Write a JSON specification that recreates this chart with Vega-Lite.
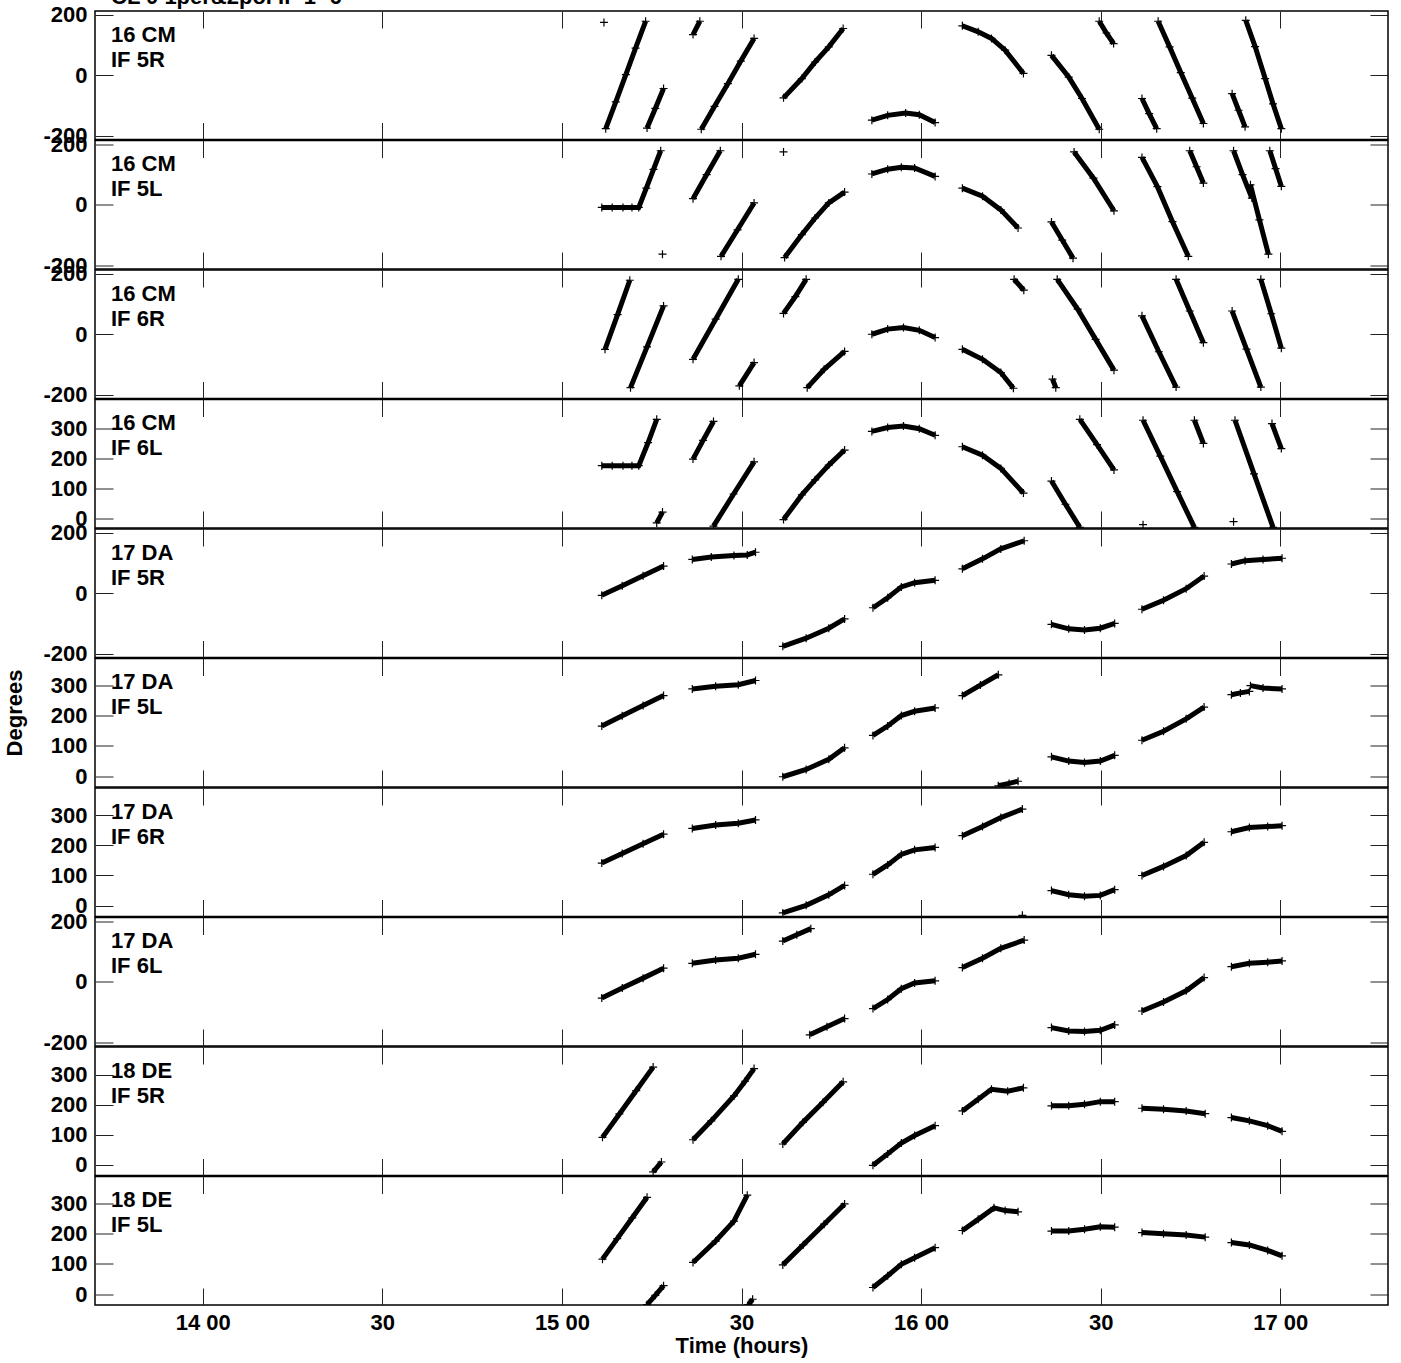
{
"$schema": "https://vega.github.io/schema/vega-lite/v6.json",
"padding": {"left": 2, "top": -14, "right": 5, "bottom": 5},
"background": "white",
"bounds": "flush",
"spacing": 0.5,
"title": {"text": "CL 0 1per&2pol IF 1- 6", "anchor": "start", "frame": "group", "offset": -23, "baseline": "alphabetic", "font": "Liberation Sans", "fontWeight": "bold", "fontSize": 22, "color": "black"},
"config": {
  "view": {"stroke": "black", "strokeWidth": 1.5},
  "axis": {"grid": false, "domain": false, "tickColor": "#222", "tickWidth": 1, "labelFont": "Liberation Sans", "labelFontWeight": "bold", "labelFontSize": 22, "labelColor": "black", "titleFont": "Liberation Sans", "titleFontWeight": "bold", "titleFontSize": 22, "titleColor": "black", "labelExpr": "datum.value < 0 ? '-' + abs(datum.value) : '' + datum.value"},
  "title": {"anchor": "start", "frame": "group", "dx": 16, "baseline": "top", "lineHeight": 25, "font": "Liberation Sans", "fontWeight": "bold", "fontSize": 22, "color": "black"}
},
"datasets": {
"p1": [
{"s":"a","t":15.117,"v":175},
{"s":"b","t":15.122,"v":-177},{"s":"b","t":15.150,"v":-88},{"s":"b","t":15.178,"v":2},{"s":"b","t":15.205,"v":90},{"s":"b","t":15.233,"v":179},
{"s":"c","t":15.365,"v":135},{"s":"c","t":15.384,"v":179},
{"s":"d","t":15.237,"v":-175},{"s":"d","t":15.260,"v":-110},{"s":"d","t":15.283,"v":-44},
{"s":"e","t":15.388,"v":-179},{"s":"e","t":15.425,"v":-103},{"s":"e","t":15.462,"v":-28},{"s":"e","t":15.498,"v":47},{"s":"e","t":15.535,"v":122},
{"s":"f","t":15.617,"v":-75},{"s":"f","t":15.668,"v":-11},{"s":"f","t":15.705,"v":44},{"s":"f","t":15.743,"v":94},{"s":"f","t":15.783,"v":155},
{"s":"g","t":15.863,"v":-149},{"s":"g","t":15.907,"v":-133},{"s":"g","t":15.957,"v":-125},{"s":"g","t":15.995,"v":-131},{"s":"g","t":16.039,"v":-157},
{"s":"h","t":16.115,"v":164},{"s":"h","t":16.159,"v":144},{"s":"h","t":16.196,"v":122},{"s":"h","t":16.234,"v":83},{"s":"h","t":16.285,"v":6},
{"s":"i","t":16.496,"v":179},{"s":"i","t":16.516,"v":140},{"s":"i","t":16.536,"v":105},
{"s":"j","t":16.363,"v":66},{"s":"j","t":16.411,"v":-6},{"s":"j","t":16.448,"v":-77},{"s":"j","t":16.496,"v":-179},
{"s":"k","t":16.615,"v":-77},{"s":"k","t":16.635,"v":-127},{"s":"k","t":16.656,"v":-177},
{"s":"l","t":16.660,"v":179},{"s":"l","t":16.692,"v":94},{"s":"l","t":16.723,"v":9},{"s":"l","t":16.755,"v":-76},{"s":"l","t":16.786,"v":-160},
{"s":"m","t":16.866,"v":-61},{"s":"m","t":16.884,"v":-116},{"s":"m","t":16.902,"v":-171},
{"s":"n","t":16.904,"v":182},{"s":"n","t":16.930,"v":95},{"s":"n","t":16.958,"v":-11},{"s":"n","t":16.980,"v":-95},{"s":"n","t":17.003,"v":-177}
],
"p2": [
{"s":"a","t":15.111,"v":-9},{"s":"a","t":15.140,"v":-9},{"s":"a","t":15.170,"v":-9},{"s":"a","t":15.195,"v":-9},{"s":"a","t":15.214,"v":-9},{"s":"a","t":15.235,"v":55},{"s":"a","t":15.255,"v":117},{"s":"a","t":15.275,"v":179},
{"s":"b","t":15.280,"v":-164},
{"s":"c","t":15.365,"v":20},{"s":"c","t":15.403,"v":100},{"s":"c","t":15.441,"v":179},
{"s":"d","t":15.443,"v":-171},{"s":"d","t":15.489,"v":-83},{"s":"d","t":15.535,"v":6},
{"s":"e","t":15.617,"v":175},
{"s":"f","t":15.620,"v":-175},{"s":"f","t":15.668,"v":-99},{"s":"f","t":15.705,"v":-44},{"s":"f","t":15.743,"v":6},{"s":"f","t":15.787,"v":42},
{"s":"g","t":15.863,"v":102},{"s":"g","t":15.907,"v":118},{"s":"g","t":15.945,"v":124},{"s":"g","t":15.982,"v":122},{"s":"g","t":16.039,"v":94},
{"s":"h","t":16.115,"v":55},{"s":"h","t":16.171,"v":28},{"s":"h","t":16.222,"v":-17},{"s":"h","t":16.270,"v":-77},
{"s":"i","t":16.426,"v":175},{"s":"i","t":16.480,"v":88},{"s":"i","t":16.537,"v":-20},
{"s":"j","t":16.363,"v":-57},{"s":"j","t":16.393,"v":-117},{"s":"j","t":16.423,"v":-177},
{"s":"k","t":16.615,"v":157},{"s":"k","t":16.658,"v":60},{"s":"k","t":16.700,"v":-56},{"s":"k","t":16.744,"v":-171},
{"s":"l","t":16.748,"v":179},{"s":"l","t":16.767,"v":126},{"s":"l","t":16.786,"v":72},
{"s":"m","t":16.870,"v":179},{"s":"m","t":16.895,"v":100},{"s":"m","t":16.921,"v":22},
{"s":"n","t":16.917,"v":66},{"s":"n","t":16.942,"v":-50},{"s":"n","t":16.967,"v":-164},
{"s":"o","t":16.971,"v":179},{"s":"o","t":16.987,"v":120},{"s":"o","t":17.003,"v":61}
],
"p3": [
{"s":"a","t":15.120,"v":-50},{"s":"a","t":15.155,"v":65},{"s":"a","t":15.189,"v":179},
{"s":"b","t":15.191,"v":-177},{"s":"b","t":15.237,"v":-42},{"s":"b","t":15.283,"v":94},
{"s":"c","t":15.365,"v":-83},{"s":"c","t":15.428,"v":50},{"s":"c","t":15.491,"v":182},
{"s":"d","t":15.494,"v":-171},{"s":"d","t":15.535,"v":-94},
{"s":"e","t":15.617,"v":69},{"s":"e","t":15.650,"v":125},{"s":"e","t":15.680,"v":182},
{"s":"f","t":15.683,"v":-177},{"s":"f","t":15.730,"v":-116},{"s":"f","t":15.787,"v":-57},
{"s":"g","t":15.863,"v":0},{"s":"g","t":15.907,"v":17},{"s":"g","t":15.951,"v":22},{"s":"g","t":15.995,"v":13},{"s":"g","t":16.039,"v":-11},
{"s":"h","t":16.115,"v":-50},{"s":"h","t":16.171,"v":-83},{"s":"h","t":16.222,"v":-127},{"s":"h","t":16.257,"v":-179},
{"s":"i","t":16.259,"v":182},{"s":"i","t":16.286,"v":146},
{"s":"j","t":16.379,"v":182},{"s":"j","t":16.436,"v":83},{"s":"j","t":16.486,"v":-17},{"s":"j","t":16.537,"v":-119},
{"s":"k","t":16.366,"v":-149},{"s":"k","t":16.375,"v":-177},
{"s":"l","t":16.615,"v":61},{"s":"l","t":16.662,"v":-58},{"s":"l","t":16.710,"v":-175},
{"s":"m","t":16.710,"v":182},{"s":"m","t":16.748,"v":77},{"s":"m","t":16.786,"v":-28},
{"s":"n","t":16.866,"v":77},{"s":"n","t":16.906,"v":-49},{"s":"n","t":16.946,"v":-175},
{"s":"o","t":16.946,"v":182},{"s":"o","t":16.975,"v":68},{"s":"o","t":17.003,"v":-46}
],
"p4": [
{"s":"a","t":15.111,"v":176},{"s":"a","t":15.140,"v":176},{"s":"a","t":15.170,"v":176},{"s":"a","t":15.195,"v":176},{"s":"a","t":15.214,"v":176},{"s":"a","t":15.240,"v":253},{"s":"a","t":15.264,"v":330},
{"s":"b","t":15.264,"v":-14},{"s":"b","t":15.280,"v":22},
{"s":"c","t":15.365,"v":198},{"s":"c","t":15.393,"v":260},{"s":"c","t":15.422,"v":323},
{"s":"d","t":15.422,"v":-25},{"s":"d","t":15.478,"v":82},{"s":"d","t":15.535,"v":189},
{"s":"e","t":15.617,"v":-3},{"s":"e","t":15.668,"v":79},{"s":"e","t":15.705,"v":129},{"s":"e","t":15.743,"v":178},{"s":"e","t":15.787,"v":228},
{"s":"f","t":15.863,"v":290},{"s":"f","t":15.907,"v":303},{"s":"f","t":15.951,"v":308},{"s":"f","t":15.995,"v":299},{"s":"f","t":16.039,"v":277},
{"s":"g","t":16.115,"v":239},{"s":"g","t":16.171,"v":211},{"s":"g","t":16.222,"v":167},{"s":"g","t":16.285,"v":85},
{"s":"h","t":16.442,"v":330},{"s":"h","t":16.490,"v":246},{"s":"h","t":16.537,"v":162},
{"s":"i","t":16.363,"v":125},{"s":"i","t":16.402,"v":48},{"s":"i","t":16.442,"v":-29},
{"s":"j","t":16.618,"v":327},{"s":"j","t":16.666,"v":208},{"s":"j","t":16.713,"v":90},{"s":"j","t":16.761,"v":-29},
{"s":"k","t":16.761,"v":327},{"s":"k","t":16.786,"v":250},
{"s":"l","t":16.618,"v":-20},
{"s":"m","t":16.874,"v":327},{"s":"m","t":16.927,"v":149},{"s":"m","t":16.980,"v":-29},
{"s":"n","t":16.870,"v":-10},
{"s":"o","t":16.977,"v":316},{"s":"o","t":17.003,"v":233}
],
"p5": [
{"s":"a","t":15.111,"v":-7},{"s":"a","t":15.168,"v":25},{"s":"a","t":15.226,"v":58},{"s":"a","t":15.283,"v":90},
{"s":"b","t":15.363,"v":112},{"s":"b","t":15.416,"v":120},{"s":"b","t":15.479,"v":125},{"s":"b","t":15.516,"v":127},{"s":"b","t":15.539,"v":136},
{"s":"c","t":15.615,"v":-176},{"s":"c","t":15.680,"v":-149},{"s":"c","t":15.743,"v":-116},{"s":"c","t":15.787,"v":-85},
{"s":"d","t":15.866,"v":-48},{"s":"d","t":15.907,"v":-15},{"s":"d","t":15.945,"v":21},{"s":"d","t":15.982,"v":35},{"s":"d","t":16.039,"v":43},
{"s":"e","t":16.115,"v":81},{"s":"e","t":16.171,"v":114},{"s":"e","t":16.222,"v":147},{"s":"e","t":16.287,"v":174},
{"s":"f","t":16.363,"v":-103},{"s":"f","t":16.411,"v":-118},{"s":"f","t":16.455,"v":-122},{"s":"f","t":16.499,"v":-116},{"s":"f","t":16.539,"v":-100},
{"s":"g","t":16.615,"v":-53},{"s":"g","t":16.675,"v":-23},{"s":"g","t":16.738,"v":15},{"s":"g","t":16.788,"v":57},
{"s":"h","t":16.864,"v":97},{"s":"h","t":16.902,"v":108},{"s":"h","t":16.952,"v":112},{"s":"h","t":17.005,"v":116}
],
"p6": [
{"s":"a","t":15.111,"v":166},{"s":"a","t":15.168,"v":200},{"s":"a","t":15.226,"v":234},{"s":"a","t":15.283,"v":267},
{"s":"b","t":15.363,"v":289},{"s":"b","t":15.428,"v":298},{"s":"b","t":15.491,"v":303},{"s":"b","t":15.539,"v":317},
{"s":"c","t":15.615,"v":-2},{"s":"c","t":15.680,"v":22},{"s":"c","t":15.743,"v":56},{"s":"c","t":15.787,"v":94},
{"s":"d","t":15.866,"v":135},{"s":"d","t":15.907,"v":166},{"s":"d","t":15.945,"v":201},{"s":"d","t":15.982,"v":215},{"s":"d","t":16.039,"v":226},
{"s":"e","t":16.115,"v":267},{"s":"e","t":16.165,"v":302},{"s":"e","t":16.215,"v":336},
{"s":"f","t":16.215,"v":-32},{"s":"f","t":16.245,"v":-24},{"s":"f","t":16.270,"v":-17},
{"s":"g","t":16.363,"v":64},{"s":"g","t":16.411,"v":50},{"s":"g","t":16.455,"v":45},{"s":"g","t":16.499,"v":50},{"s":"g","t":16.539,"v":69},
{"s":"h","t":16.615,"v":119},{"s":"h","t":16.675,"v":149},{"s":"h","t":16.738,"v":190},{"s":"h","t":16.788,"v":229},
{"s":"i","t":16.864,"v":270},{"s":"i","t":16.889,"v":276},{"s":"i","t":16.914,"v":281},
{"s":"j","t":16.917,"v":300},{"s":"j","t":16.952,"v":292},{"s":"j","t":17.005,"v":289}
],
"p7": [
{"s":"a","t":15.111,"v":141},{"s":"a","t":15.168,"v":173},{"s":"a","t":15.226,"v":205},{"s":"a","t":15.283,"v":237},
{"s":"b","t":15.363,"v":256},{"s":"b","t":15.428,"v":267},{"s":"b","t":15.491,"v":273},{"s":"b","t":15.539,"v":284},
{"s":"c","t":15.615,"v":-24},{"s":"c","t":15.680,"v":1},{"s":"c","t":15.743,"v":36},{"s":"c","t":15.787,"v":67},
{"s":"d","t":15.866,"v":104},{"s":"d","t":15.907,"v":135},{"s":"d","t":15.945,"v":170},{"s":"d","t":15.982,"v":185},{"s":"d","t":16.039,"v":193},
{"s":"e","t":16.115,"v":232},{"s":"e","t":16.171,"v":262},{"s":"e","t":16.222,"v":292},{"s":"e","t":16.282,"v":320},
{"s":"f","t":16.282,"v":-32},
{"s":"g","t":16.363,"v":50},{"s":"g","t":16.411,"v":36},{"s":"g","t":16.455,"v":31},{"s":"g","t":16.499,"v":34},{"s":"g","t":16.539,"v":53},
{"s":"h","t":16.615,"v":100},{"s":"h","t":16.675,"v":130},{"s":"h","t":16.738,"v":166},{"s":"h","t":16.788,"v":210},
{"s":"i","t":16.864,"v":245},{"s":"i","t":16.914,"v":259},{"s":"i","t":16.965,"v":262},{"s":"i","t":17.005,"v":265}
],
"p8": [
{"s":"a","t":15.111,"v":-54},{"s":"a","t":15.168,"v":-21},{"s":"a","t":15.226,"v":12},{"s":"a","t":15.283,"v":45},
{"s":"b","t":15.363,"v":61},{"s":"b","t":15.428,"v":72},{"s":"b","t":15.491,"v":78},{"s":"b","t":15.539,"v":91},
{"s":"c","t":15.615,"v":135},{"s":"c","t":15.654,"v":156},{"s":"c","t":15.693,"v":176},
{"s":"d","t":15.690,"v":-176},{"s":"d","t":15.738,"v":-149},{"s":"d","t":15.787,"v":-122},
{"s":"e","t":15.866,"v":-89},{"s":"e","t":15.907,"v":-59},{"s":"e","t":15.945,"v":-23},{"s":"e","t":15.982,"v":-4},{"s":"e","t":16.039,"v":3},
{"s":"f","t":16.115,"v":47},{"s":"f","t":16.171,"v":78},{"s":"f","t":16.222,"v":111},{"s":"f","t":16.287,"v":138},
{"s":"g","t":16.363,"v":-152},{"s":"g","t":16.411,"v":-163},{"s":"g","t":16.455,"v":-165},{"s":"g","t":16.499,"v":-161},{"s":"g","t":16.539,"v":-143},
{"s":"h","t":16.615,"v":-97},{"s":"h","t":16.675,"v":-67},{"s":"h","t":16.738,"v":-30},{"s":"h","t":16.788,"v":14},
{"s":"i","t":16.864,"v":50},{"s":"i","t":16.914,"v":61},{"s":"i","t":16.965,"v":65},{"s":"i","t":17.005,"v":69}
],
"p9": [
{"s":"a","t":15.113,"v":91},{"s":"a","t":15.160,"v":169},{"s":"a","t":15.207,"v":247},{"s":"a","t":15.254,"v":325},
{"s":"b","t":15.254,"v":-24},{"s":"b","t":15.277,"v":9},
{"s":"c","t":15.365,"v":83},{"s":"c","t":15.416,"v":146},{"s":"c","t":15.479,"v":229},{"s":"c","t":15.510,"v":278},{"s":"c","t":15.535,"v":320},
{"s":"d","t":15.615,"v":69},{"s":"d","t":15.671,"v":141},{"s":"d","t":15.727,"v":208},{"s":"d","t":15.783,"v":276},
{"s":"e","t":15.866,"v":-2},{"s":"e","t":15.907,"v":36},{"s":"e","t":15.945,"v":72},{"s":"e","t":15.982,"v":97},{"s":"e","t":16.039,"v":130},
{"s":"f","t":16.115,"v":179},{"s":"f","t":16.159,"v":218},{"s":"f","t":16.196,"v":251},{"s":"f","t":16.241,"v":245},{"s":"f","t":16.285,"v":256},
{"s":"g","t":16.363,"v":196},{"s":"g","t":16.411,"v":196},{"s":"g","t":16.455,"v":201},{"s":"g","t":16.499,"v":210},{"s":"g","t":16.539,"v":210},
{"s":"h","t":16.615,"v":188},{"s":"h","t":16.675,"v":185},{"s":"h","t":16.738,"v":179},{"s":"h","t":16.791,"v":170},
{"s":"i","t":16.864,"v":157},{"s":"i","t":16.914,"v":146},{"s":"i","t":16.965,"v":130},{"s":"i","t":17.005,"v":111}
],
"p10": [
{"s":"a","t":15.113,"v":116},{"s":"a","t":15.154,"v":184},{"s":"a","t":15.196,"v":253},{"s":"a","t":15.237,"v":321},
{"s":"b","t":15.237,"v":-35},{"s":"b","t":15.260,"v":-4},{"s":"b","t":15.283,"v":28},
{"s":"c","t":15.365,"v":105},{"s":"c","t":15.428,"v":176},{"s":"c","t":15.479,"v":242},{"s":"c","t":15.516,"v":328},
{"s":"d","t":15.519,"v":-35},{"s":"d","t":15.531,"v":-17},
{"s":"e","t":15.615,"v":97},{"s":"e","t":15.672,"v":164},{"s":"e","t":15.730,"v":232},{"s":"e","t":15.787,"v":299},
{"s":"f","t":15.866,"v":22},{"s":"f","t":15.907,"v":61},{"s":"f","t":15.945,"v":99},{"s":"f","t":15.982,"v":121},{"s":"f","t":16.039,"v":154},
{"s":"g","t":16.115,"v":211},{"s":"g","t":16.159,"v":248},{"s":"g","t":16.203,"v":286},{"s":"g","t":16.234,"v":277},{"s":"g","t":16.270,"v":273},
{"s":"h","t":16.363,"v":209},{"s":"h","t":16.411,"v":209},{"s":"h","t":16.455,"v":215},{"s":"h","t":16.499,"v":223},{"s":"h","t":16.539,"v":222},
{"s":"i","t":16.615,"v":204},{"s":"i","t":16.675,"v":200},{"s":"i","t":16.738,"v":196},{"s":"i","t":16.791,"v":189},
{"s":"j","t":16.864,"v":171},{"s":"j","t":16.914,"v":163},{"s":"j","t":16.965,"v":145},{"s":"j","t":17.005,"v":127}
]
},
"vconcat": [
{"width":1293,"height":128.5,"data":{"name":"p1"},
 "title":{"text":["16 CM","IF 5R"],"offset":-68},
 "layer":[
  {"mark":{"type":"line","color":"black","strokeWidth":5,"clip":true},
   "encoding":{"x":{"field":"t","type":"quantitative","scale":{"domain":[13.7,17.3],"nice":false,"zero":false},"axis":{"orient":"bottom","values":[14,14.5,15,15.5,16,16.5,17],"tickSize":-17,"labels":false,"title":null}},
    "y":{"field":"v","type":"quantitative","scale":{"domain":[-213,213],"nice":false,"zero":false},"axis":{"orient":"left","values":[-200,0,200],"tickSize":-18,"labelPadding":26,"title":null}},
    "detail":{"field":"s"}}},
  {"mark":{"type":"point","shape":"M-1,0L1,0M0,-1L0,1","size":64,"stroke":"black","strokeWidth":1.2,"filled":false,"opacity":1,"clip":true},
   "encoding":{"x":{"field":"t","type":"quantitative","axis":{"orient":"top","values":[14,14.5,15,15.5,16,16.5,17],"tickSize":-17,"labels":false,"title":null}},
    "y":{"field":"v","type":"quantitative","axis":{"orient":"right","values":[-200,0,200],"tickSize":-18,"labels":false,"title":null}}}}
 ],
 "resolve":{"axis":{"x":"independent","y":"independent"}}},
{"width":1293,"height":128.5,"data":{"name":"p2"},
 "title":{"text":["16 CM","IF 5L"],"offset":-68},
 "layer":[
  {"mark":{"type":"line","color":"black","strokeWidth":5,"clip":true},
   "encoding":{"x":{"field":"t","type":"quantitative","scale":{"domain":[13.7,17.3],"nice":false,"zero":false},"axis":{"orient":"bottom","values":[14,14.5,15,15.5,16,16.5,17],"tickSize":-17,"labels":false,"title":null}},
    "y":{"field":"v","type":"quantitative","scale":{"domain":[-213,213],"nice":false,"zero":false},"axis":{"orient":"left","values":[-200,0,200],"tickSize":-18,"labelPadding":26,"title":null}},
    "detail":{"field":"s"}}},
  {"mark":{"type":"point","shape":"M-1,0L1,0M0,-1L0,1","size":64,"stroke":"black","strokeWidth":1.2,"filled":false,"opacity":1,"clip":true},
   "encoding":{"x":{"field":"t","type":"quantitative","axis":{"orient":"top","values":[14,14.5,15,15.5,16,16.5,17],"tickSize":-17,"labels":false,"title":null}},
    "y":{"field":"v","type":"quantitative","axis":{"orient":"right","values":[-200,0,200],"tickSize":-18,"labels":false,"title":null}}}}
 ],
 "resolve":{"axis":{"x":"independent","y":"independent"}}},
{"width":1293,"height":128.5,"data":{"name":"p3"},
 "title":{"text":["16 CM","IF 6R"],"offset":-68},
 "layer":[
  {"mark":{"type":"line","color":"black","strokeWidth":5,"clip":true},
   "encoding":{"x":{"field":"t","type":"quantitative","scale":{"domain":[13.7,17.3],"nice":false,"zero":false},"axis":{"orient":"bottom","values":[14,14.5,15,15.5,16,16.5,17],"tickSize":-17,"labels":false,"title":null}},
    "y":{"field":"v","type":"quantitative","scale":{"domain":[-213,213],"nice":false,"zero":false},"axis":{"orient":"left","values":[-200,0,200],"tickSize":-18,"labelPadding":26,"title":null}},
    "detail":{"field":"s"}}},
  {"mark":{"type":"point","shape":"M-1,0L1,0M0,-1L0,1","size":64,"stroke":"black","strokeWidth":1.2,"filled":false,"opacity":1,"clip":true},
   "encoding":{"x":{"field":"t","type":"quantitative","axis":{"orient":"top","values":[14,14.5,15,15.5,16,16.5,17],"tickSize":-17,"labels":false,"title":null}},
    "y":{"field":"v","type":"quantitative","axis":{"orient":"right","values":[-200,0,200],"tickSize":-18,"labels":false,"title":null}}}}
 ],
 "resolve":{"axis":{"x":"independent","y":"independent"}}},
{"width":1293,"height":128.5,"data":{"name":"p4"},
 "title":{"text":["16 CM","IF 6L"],"offset":-61},
 "layer":[
  {"mark":{"type":"line","color":"black","strokeWidth":5,"clip":true},
   "encoding":{"x":{"field":"t","type":"quantitative","scale":{"domain":[13.7,17.3],"nice":false,"zero":false},"axis":{"orient":"bottom","values":[14,14.5,15,15.5,16,16.5,17],"tickSize":-17,"labels":false,"title":null}},
    "y":{"field":"v","type":"quantitative","scale":{"domain":[-31,396],"nice":false,"zero":false},"axis":{"orient":"left","values":[0,100,200,300],"tickSize":-18,"labelPadding":26,"title":null}},
    "detail":{"field":"s"}}},
  {"mark":{"type":"point","shape":"M-1,0L1,0M0,-1L0,1","size":64,"stroke":"black","strokeWidth":1.2,"filled":false,"opacity":1,"clip":true},
   "encoding":{"x":{"field":"t","type":"quantitative","axis":{"orient":"top","values":[14,14.5,15,15.5,16,16.5,17],"tickSize":-17,"labels":false,"title":null}},
    "y":{"field":"v","type":"quantitative","axis":{"orient":"right","values":[0,100,200,300],"tickSize":-18,"labels":false,"title":null}}}}
 ],
 "resolve":{"axis":{"x":"independent","y":"independent"}}},
{"width":1293,"height":128.5,"data":{"name":"p5"},
 "title":{"text":["17 DA","IF 5R"],"offset":-68},
 "layer":[
  {"mark":{"type":"line","color":"black","strokeWidth":5,"clip":true},
   "encoding":{"x":{"field":"t","type":"quantitative","scale":{"domain":[13.7,17.3],"nice":false,"zero":false},"axis":{"orient":"bottom","values":[14,14.5,15,15.5,16,16.5,17],"tickSize":-17,"labels":false,"title":null}},
    "y":{"field":"v","type":"quantitative","scale":{"domain":[-213,213],"nice":false,"zero":false},"axis":{"orient":"left","values":[-200,0,200],"tickSize":-18,"labelPadding":26,"title":null}},
    "detail":{"field":"s"}}},
  {"mark":{"type":"point","shape":"M-1,0L1,0M0,-1L0,1","size":64,"stroke":"black","strokeWidth":1.2,"filled":false,"opacity":1,"clip":true},
   "encoding":{"x":{"field":"t","type":"quantitative","axis":{"orient":"top","values":[14,14.5,15,15.5,16,16.5,17],"tickSize":-17,"labels":false,"title":null}},
    "y":{"field":"v","type":"quantitative","axis":{"orient":"right","values":[-200,0,200],"tickSize":-18,"labels":false,"title":null}}}}
 ],
 "resolve":{"axis":{"x":"independent","y":"independent"}}},
{"width":1293,"height":128.5,"data":{"name":"p6"},
 "title":{"text":["17 DA","IF 5L"],"offset":-61},
 "layer":[
  {"mark":{"type":"line","color":"black","strokeWidth":5,"clip":true},
   "encoding":{"x":{"field":"t","type":"quantitative","scale":{"domain":[13.7,17.3],"nice":false,"zero":false},"axis":{"orient":"bottom","values":[14,14.5,15,15.5,16,16.5,17],"tickSize":-17,"labels":false,"title":null}},
    "y":{"field":"v","type":"quantitative","scale":{"domain":[-36,390],"nice":false,"zero":false},"axis":{"orient":"left","values":[0,100,200,300],"tickSize":-18,"labelPadding":26,"title":"Degrees","titlePadding":24,"titleY":54}},
    "detail":{"field":"s"}}},
  {"mark":{"type":"point","shape":"M-1,0L1,0M0,-1L0,1","size":64,"stroke":"black","strokeWidth":1.2,"filled":false,"opacity":1,"clip":true},
   "encoding":{"x":{"field":"t","type":"quantitative","axis":{"orient":"top","values":[14,14.5,15,15.5,16,16.5,17],"tickSize":-17,"labels":false,"title":null}},
    "y":{"field":"v","type":"quantitative","axis":{"orient":"right","values":[0,100,200,300],"tickSize":-18,"labels":false,"title":null}}}}
 ],
 "resolve":{"axis":{"x":"independent","y":"independent"}}},
{"width":1293,"height":128.5,"data":{"name":"p7"},
 "title":{"text":["17 DA","IF 6R"],"offset":-61},
 "layer":[
  {"mark":{"type":"line","color":"black","strokeWidth":5,"clip":true},
   "encoding":{"x":{"field":"t","type":"quantitative","scale":{"domain":[13.7,17.3],"nice":false,"zero":false},"axis":{"orient":"bottom","values":[14,14.5,15,15.5,16,16.5,17],"tickSize":-17,"labels":false,"title":null}},
    "y":{"field":"v","type":"quantitative","scale":{"domain":[-36,390],"nice":false,"zero":false},"axis":{"orient":"left","values":[0,100,200,300],"tickSize":-18,"labelPadding":26,"title":null}},
    "detail":{"field":"s"}}},
  {"mark":{"type":"point","shape":"M-1,0L1,0M0,-1L0,1","size":64,"stroke":"black","strokeWidth":1.2,"filled":false,"opacity":1,"clip":true},
   "encoding":{"x":{"field":"t","type":"quantitative","axis":{"orient":"top","values":[14,14.5,15,15.5,16,16.5,17],"tickSize":-17,"labels":false,"title":null}},
    "y":{"field":"v","type":"quantitative","axis":{"orient":"right","values":[0,100,200,300],"tickSize":-18,"labels":false,"title":null}}}}
 ],
 "resolve":{"axis":{"x":"independent","y":"independent"}}},
{"width":1293,"height":128.5,"data":{"name":"p8"},
 "title":{"text":["17 DA","IF 6L"],"offset":-68},
 "layer":[
  {"mark":{"type":"line","color":"black","strokeWidth":5,"clip":true},
   "encoding":{"x":{"field":"t","type":"quantitative","scale":{"domain":[13.7,17.3],"nice":false,"zero":false},"axis":{"orient":"bottom","values":[14,14.5,15,15.5,16,16.5,17],"tickSize":-17,"labels":false,"title":null}},
    "y":{"field":"v","type":"quantitative","scale":{"domain":[-213,213],"nice":false,"zero":false},"axis":{"orient":"left","values":[-200,0,200],"tickSize":-18,"labelPadding":26,"title":null}},
    "detail":{"field":"s"}}},
  {"mark":{"type":"point","shape":"M-1,0L1,0M0,-1L0,1","size":64,"stroke":"black","strokeWidth":1.2,"filled":false,"opacity":1,"clip":true},
   "encoding":{"x":{"field":"t","type":"quantitative","axis":{"orient":"top","values":[14,14.5,15,15.5,16,16.5,17],"tickSize":-17,"labels":false,"title":null}},
    "y":{"field":"v","type":"quantitative","axis":{"orient":"right","values":[-200,0,200],"tickSize":-18,"labels":false,"title":null}}}}
 ],
 "resolve":{"axis":{"x":"independent","y":"independent"}}},
{"width":1293,"height":128.5,"data":{"name":"p9"},
 "title":{"text":["18 DE","IF 5R"],"offset":-61},
 "layer":[
  {"mark":{"type":"line","color":"black","strokeWidth":5,"clip":true},
   "encoding":{"x":{"field":"t","type":"quantitative","scale":{"domain":[13.7,17.3],"nice":false,"zero":false},"axis":{"orient":"bottom","values":[14,14.5,15,15.5,16,16.5,17],"tickSize":-17,"labels":false,"title":null}},
    "y":{"field":"v","type":"quantitative","scale":{"domain":[-36,392],"nice":false,"zero":false},"axis":{"orient":"left","values":[0,100,200,300],"tickSize":-18,"labelPadding":26,"title":null}},
    "detail":{"field":"s"}}},
  {"mark":{"type":"point","shape":"M-1,0L1,0M0,-1L0,1","size":64,"stroke":"black","strokeWidth":1.2,"filled":false,"opacity":1,"clip":true},
   "encoding":{"x":{"field":"t","type":"quantitative","axis":{"orient":"top","values":[14,14.5,15,15.5,16,16.5,17],"tickSize":-17,"labels":false,"title":null}},
    "y":{"field":"v","type":"quantitative","axis":{"orient":"right","values":[0,100,200,300],"tickSize":-18,"labels":false,"title":null}}}}
 ],
 "resolve":{"axis":{"x":"independent","y":"independent"}}},
{"width":1293,"height":128.5,"data":{"name":"p10"},
 "title":{"text":["18 DE","IF 5L"],"offset":-61},
 "layer":[
  {"mark":{"type":"line","color":"black","strokeWidth":5,"clip":true},
   "encoding":{"x":{"field":"t","type":"quantitative","scale":{"domain":[13.7,17.3],"nice":false,"zero":false},"axis":{"orient":"bottom","values":[14,14.5,15,15.5,16,16.5,17],"tickSize":-17,"labels":true,"labelPadding":24,"labelExpr":"datum.value % 1 == 0 ? format(datum.value, 'd') + ' 00' : '30'","title":"Time (hours)","titlePadding":2}},
    "y":{"field":"v","type":"quantitative","scale":{"domain":[-36,390],"nice":false,"zero":false},"axis":{"orient":"left","values":[0,100,200,300],"tickSize":-18,"labelPadding":26,"title":null}},
    "detail":{"field":"s"}}},
  {"mark":{"type":"point","shape":"M-1,0L1,0M0,-1L0,1","size":64,"stroke":"black","strokeWidth":1.2,"filled":false,"opacity":1,"clip":true},
   "encoding":{"x":{"field":"t","type":"quantitative","axis":{"orient":"top","values":[14,14.5,15,15.5,16,16.5,17],"tickSize":-17,"labels":false,"title":null}},
    "y":{"field":"v","type":"quantitative","axis":{"orient":"right","values":[0,100,200,300],"tickSize":-18,"labels":false,"title":null}}}}
 ],
 "resolve":{"axis":{"x":"independent","y":"independent"}}}
]
}
